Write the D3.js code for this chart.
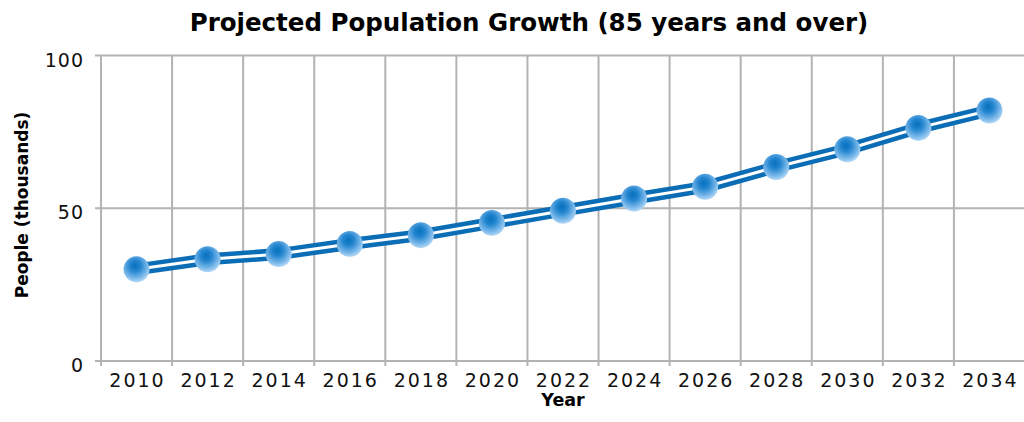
<!DOCTYPE html>
<html><head><meta charset="utf-8">
<script src="https://cdn.jsdelivr.net/npm/d3@7"></script>
<style>body{margin:0;background:#fff}svg{display:block}</style>
</head><body>
<script>
const years = ["2010","2012","2014","2016","2018","2020","2022","2024","2026","2028","2030","2032","2034"];
const values = [30, 33.3, 35, 38.3, 41.2, 45.2, 49.2, 53.2, 57, 63.5, 69.3, 76.3, 82];
const yTicks = [0, 50, 100];
const title = "Projected Population Growth (85 years and over)";
const xTitle = "Year";
const yTitle = "People (thousands)";

const W = 1024, H = 422;
const svg = d3.select("body").append("svg").attr("width", W).attr("height", H);
const plotLeft = 101, plotRight = 1025, plotTop = 55.5, plotBottom = 361;

const x = d3.scaleBand().domain(years).range([plotLeft, plotRight]).padding(0);
const y = d3.scaleLinear().domain([0, 100]).range([plotBottom, plotTop]);

const defs = svg.append("defs");
const g = defs.append("radialGradient").attr("id", "ball")
  .attr("cx", "45%").attr("cy", "38%").attr("r", "62%").attr("fx", "45%").attr("fy", "35%");
g.append("stop").attr("offset", "0%").attr("stop-color", "#0670bd");
g.append("stop").attr("offset", "35%").attr("stop-color", "#2586d0");
g.append("stop").attr("offset", "80%").attr("stop-color", "#82bdec");
g.append("stop").attr("offset", "100%").attr("stop-color", "#b4d8f6");

const gridColor = "#b3b3b3";
svg.append("g").selectAll("line").data(yTicks).join("line")
  .attr("x1", plotLeft - 6).attr("x2", W).attr("y1", d => y(d)).attr("y2", d => y(d))
  .attr("stroke", gridColor).attr("stroke-width", 2);
const bounds = years.map(d => x(d));
svg.append("g").selectAll("line").data(bounds).join("line")
  .attr("x1", d => d).attr("x2", d => d).attr("y1", plotTop).attr("y2", plotBottom + 5)
  .attr("stroke", gridColor).attr("stroke-width", 2);

svg.append("g").selectAll("text").data(yTicks).join("text")
  .attr("x", 84).attr("y", d => y(d) + 11).attr("text-anchor", "end")
  .attr("font-family", "DejaVu Sans").attr("font-size", 19).attr("letter-spacing", 1)
  .attr("fill", "#111").text(d => d);
svg.append("g").selectAll("text").data(years).join("text")
  .attr("x", d => x(d) + x.bandwidth() / 2 + 1).attr("y", 387).attr("text-anchor", "middle")
  .attr("font-family", "DejaVu Sans").attr("font-size", 19).attr("letter-spacing", 2)
  .attr("fill", "#111").text(d => d);

svg.append("text").attr("x", 529).attr("y", 31).attr("text-anchor", "middle")
  .attr("font-family", "DejaVu Sans").attr("font-weight", "bold").attr("font-size", 24.5)
  .attr("fill", "#000").text(title);
svg.append("text").attr("x", 563).attr("y", 406).attr("text-anchor", "middle")
  .attr("font-family", "DejaVu Sans").attr("font-weight", "bold").attr("font-size", 17.5)
  .attr("fill", "#000").text(xTitle);
svg.append("text").attr("transform", "translate(28,205) rotate(-90)").attr("text-anchor", "middle")
  .attr("font-family", "DejaVu Sans").attr("font-weight", "bold").attr("font-size", 17)
  .attr("fill", "#000").text(yTitle);

const data = years.map((d, i) => ({ year: d, v: values[i] }));
const line = d3.line().x(d => x(d.year) + x.bandwidth() / 2).y(d => y(d.v));
svg.append("path").datum(data).attr("d", line).attr("fill", "none")
  .attr("stroke", "#0b6db5").attr("stroke-width", 12).attr("stroke-linejoin", "round");
svg.append("path").datum(data).attr("d", line).attr("fill", "none")
  .attr("stroke", "#fff").attr("stroke-width", 3).attr("stroke-linejoin", "round");

svg.append("g").selectAll("circle").data(data).join("circle")
  .attr("cx", d => x(d.year) + x.bandwidth() / 2).attr("cy", d => y(d.v)).attr("r", 13)
  .attr("fill", "url(#ball)");
</script>
</body></html>
